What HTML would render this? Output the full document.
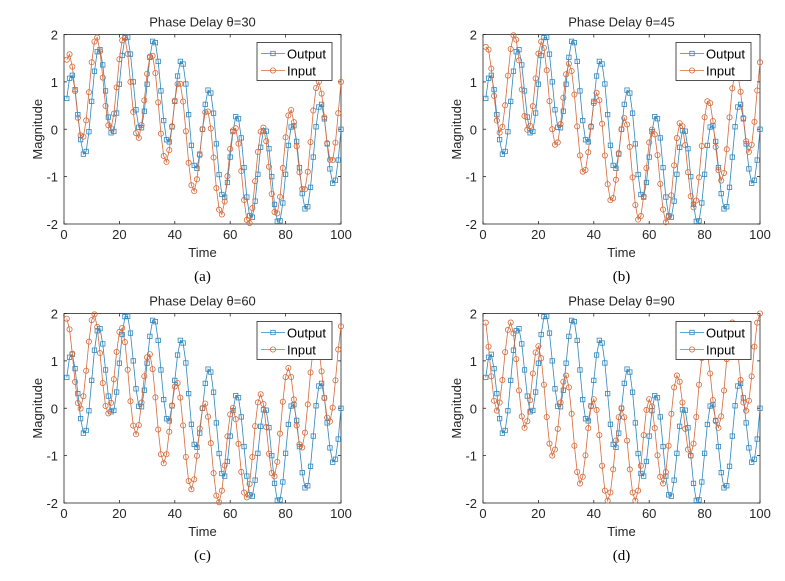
<!DOCTYPE html>
<html><head><meta charset="utf-8">
<style>
html,body{margin:0;padding:0;background:#fff;}
svg{display:block;font-family:"Liberation Sans",sans-serif;}
</style></head>
<body>
<svg id="s" width="785" height="581" xmlns="http://www.w3.org/2000/svg"></svg>
<script>
const S=document.getElementById('s');
let h='';
const panels=[
 {x:64,y:34.5,th:30,cap:'(a)'},
 {x:483,y:34.5,th:45,cap:'(b)'},
 {x:64,y:313.5,th:60,cap:'(c)'},
 {x:483,y:313.5,th:90,cap:'(d)'}];
const W=277,H=189.5;
const blue='#2f86bd',orng='#d66a3a';
panels.forEach(p=>{
 const X=t=>p.x+t/100*W, Y=v=>p.y+(2-v)/4*H;
 h+=`<rect x="${p.x}" y="${p.y}" width="${W}" height="${H}" fill="#fff" stroke="#262626" stroke-width="0.8"/>`;
 for(let t=0;t<=100;t+=20){
  h+=`<line x1="${X(t)}" y1="${p.y+H}" x2="${X(t)}" y2="${p.y+H-3}" stroke="#262626" stroke-width="0.8"/>`;
  h+=`<line x1="${X(t)}" y1="${p.y}" x2="${X(t)}" y2="${p.y+3}" stroke="#262626" stroke-width="0.8"/>`;
  h+=`<text x="${X(t)}" y="${p.y+H+15}" font-size="13" text-anchor="middle" fill="#262626">${t}</text>`;
 }
 for(let v=-2;v<=2;v++){
  h+=`<line x1="${p.x}" y1="${Y(v)}" x2="${p.x+3}" y2="${Y(v)}" stroke="#262626" stroke-width="0.8"/>`;
  h+=`<line x1="${p.x+W}" y1="${Y(v)}" x2="${p.x+W-3}" y2="${Y(v)}" stroke="#262626" stroke-width="0.8"/>`;
  h+=`<text x="${p.x-6}" y="${Y(v)+5}" font-size="13" text-anchor="end" fill="#262626">${v}</text>`;
 }
 h+=`<text x="${p.x+W/2}" y="${p.y-8}" font-size="13" text-anchor="middle" fill="#262626">Phase Delay θ=${p.th}</text>`;
 h+=`<text x="${p.x+W/2}" y="${p.y+H+33}" font-size="13" text-anchor="middle" fill="#262626">Time</text>`;
 h+=`<text transform="translate(${p.x-22},${p.y+H/2}) rotate(-90)" font-size="13" text-anchor="middle" fill="#262626">Magnitude</text>`;
 h+=`<text x="${p.x+W/2}" y="${p.y+H+57}" font-size="15" text-anchor="middle" font-family="Liberation Serif,serif" fill="#000">${p.cap}</text>`;
 const r=p.th*Math.PI/180;
 let po=[],pi=[];
 for(let t=1;t<=100;t++){
  const o=Math.sin(0.2*Math.PI*t)+Math.sin(0.02*Math.PI*t);
  const i=Math.sin(0.2*Math.PI*t+r)+Math.sin(0.02*Math.PI*t+r);
  po.push([X(t),Y(o)]);pi.push([X(t),Y(i)]);
 }
 h+=`<polyline points="${po.map(a=>a.join(',')).join(' ')}" fill="none" stroke="${blue}" stroke-width="0.8"/>`;
 po.forEach(a=>{h+=`<rect x="${a[0]-2.2}" y="${a[1]-2.2}" width="4.4" height="4.4" fill="none" stroke="${blue}" stroke-width="0.8"/>`;});
 h+=`<polyline points="${pi.map(a=>a.join(',')).join(' ')}" fill="none" stroke="${orng}" stroke-width="0.8"/>`;
 pi.forEach(a=>{h+=`<circle cx="${a[0]}" cy="${a[1]}" r="2.6" fill="none" stroke="${orng}" stroke-width="0.8"/>`;});
 const lx=p.x+W-84, ly=p.y+8;
 h+=`<rect x="${lx}" y="${ly}" width="75" height="38" fill="#fff" stroke="#262626" stroke-width="0.8"/>`;
 h+=`<line x1="${lx+4}" y1="${ly+11}" x2="${lx+28}" y2="${ly+11}" stroke="${blue}" stroke-width="0.8"/>`;
 h+=`<rect x="${lx+13.8}" y="${ly+8.8}" width="4.4" height="4.4" fill="none" stroke="${blue}" stroke-width="0.8"/>`;
 h+=`<text x="${lx+30}" y="${ly+16}" font-size="13" fill="#000">Output</text>`;
 h+=`<line x1="${lx+4}" y1="${ly+28}" x2="${lx+28}" y2="${ly+28}" stroke="${orng}" stroke-width="0.8"/>`;
 h+=`<circle cx="${lx+16}" cy="${ly+28}" r="2.6" fill="none" stroke="${orng}" stroke-width="0.8"/>`;
 h+=`<text x="${lx+30}" y="${ly+33}" font-size="13" fill="#000">Input</text>`;
});
S.innerHTML=h;
</script>
</body></html>
